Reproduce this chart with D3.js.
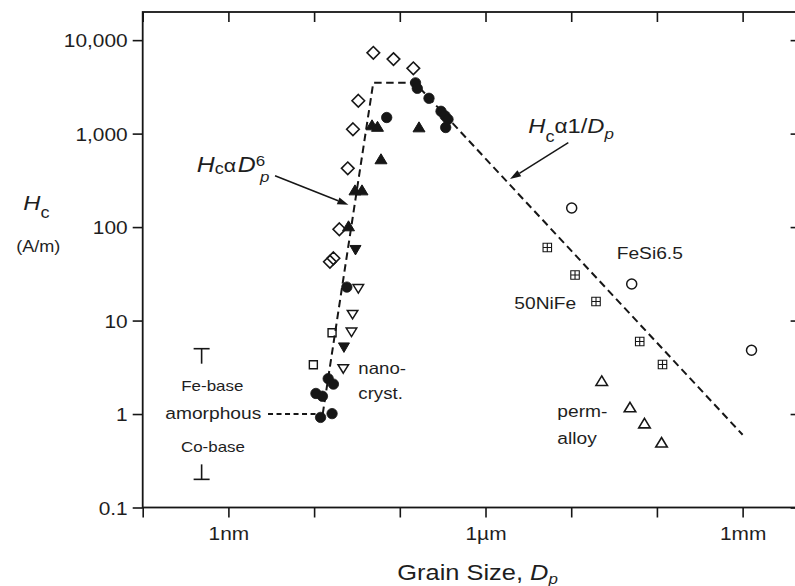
<!DOCTYPE html>
<html>
<head>
<meta charset="utf-8">
<script src="https://cdn.jsdelivr.net/npm/d3@7"></script>
<style>
  html, body { margin: 0; padding: 0; background: #fff; }
  svg { display: block; }
  text { font-family: "Liberation Sans", Arial, Helvetica, sans-serif; fill: #1e1e1e; }
</style>
</head>
<body>
<svg id="chart" width="795" height="586"></svg>
<script>
// Coercivity Hc (A/m) versus grain size D (nm) for soft magnetic alloys.
// Each series is a list of [D in nm, Hc in A/m].
const feBaseNanoDiamonds = [[49.1, 7310], [84.4, 6265], [143.8, 4990], [32.8, 2244], [28.4, 1112],
                            [24.7, 425], [19.7, 94.7], [15.3, 42.6], [16.8, 46.4]];
const filledCircles = [[152.5, 3493], [160, 3050], [219, 2387], [302.5, 1733], [337, 1550],
                       [365, 1422], [343, 1162], [70.3, 1487], [24.1, 22.8], [14.6, 2.39],
                       [16.8, 2.09], [10.5, 1.66], [12.5, 1.55], [11.9, 0.92], [16.2, 1.01]];
const filledUpTriangles = [[47.4, 1212], [54.9, 1168], [167.5, 1153], [60.3, 525],
                           [30.0, 244], [36.2, 244], [25.2, 100.7]];
const filledDownTriangles = [[30.4, 57.9], [22.3, 5.25]];
const openDownTriangles = [[32.8, 22.3], [28.1, 11.8], [27.3, 7.65], [21.9, 3.10]];
const openSquares = [[9.8, 3.37], [16.2, 7.4]];
const feSi65Circles = [[10130, 160], [50800, 24.6], [1270000, 4.81]];
const niFe50Squares = [[5260, 60.5], [11080, 30.7], [19470, 16.0], [63000, 5.98], [116200, 3.39]];
const permalloyTriangles = [[22700, 2.22], [48500, 1.16], [71600, 0.78], [113200, 0.487]];

// Amorphous alloys: range from Co-base (low) to Fe-base (high)
const amorphousRange = { D: 0.487, low: 0.2, high: 5 };

// Guide lines: Hc = const (amorphous), Hc ~ D^6, plateau, Hc ~ 1/D
const amorphousLevel = [[2.9, 1], [12.6, 1]];
const trendLine = [[12.6, 1], [49, 3500], [150, 3500], [1e6, 0.6]];

// Axis ticks
const xDecades = [0.1, 1, 10, 100, 1e3, 1e4, 1e5, 1e6];
const xLabelValues = [1, 1e3, 1e6];
const xLabelTexts = ["1nm", "1µm", "1mm"];
const yDecades = [0.1, 1, 10, 100, 1000, 10000];
const yLabelTexts = ["0.1", "1", "10", "100", "1,000", "10,000"];

const SX = 1.13;          // horizontal text stretch of the typeface
const INK = "#161616";

const svg = d3.select("#chart");
const x = d3.scaleLog().domain([0.1, 4.5e6]).range([142.7, 798.6]);
const y = d3.scaleLog().domain([0.1, 2e4]).range([507.5, 12]);

const [x0, x1] = x.range();
const [yB, yT] = y.range();

// ---- Axes -------------------------------------------------------------
const labelFor = d => {
  const i = xLabelValues.findIndex(v => Math.abs(Math.log10(v) - Math.log10(d)) < 1e-9);
  return i >= 0 ? xLabelTexts[i] : "";
};

const gBottom = svg.append("g").attr("transform", `translate(0,${yB})`)
  .call(d3.axisBottom(x).tickValues(xDecades).tickFormat(labelFor).tickSize(10).tickSizeOuter(0));
const gTop = svg.append("g").attr("transform", `translate(0,${yT})`)
  .call(d3.axisBottom(x).tickValues(xDecades).tickFormat("").tickSize(10).tickSizeOuter(0));
const gLeft = svg.append("g").attr("transform", `translate(${x0},0)`)
  .call(d3.axisLeft(y).tickValues(yDecades).tickFormat((d, i) => yLabelTexts[i]).tickSize(10).tickSizeOuter(0));
const gRight = svg.append("g").attr("transform", `translate(${x1},0)`)
  .call(d3.axisRight(y).tickValues(yDecades).tickFormat("").tickSize(-8).tickSizeOuter(0));

[gBottom, gTop, gLeft, gRight].forEach(g => {
  g.select(".domain").remove();
  g.selectAll(".tick line").attr("stroke", INK).attr("stroke-width", 1.6);
  g.selectAll(".tick text").attr("font-family", null).attr("fill", INK);
});
gTop.selectAll(".tick text").remove();
gRight.selectAll(".tick text").remove();

gBottom.selectAll(".tick text")
  .attr("font-size", 18.5).attr("y", 32.5).attr("dy", 0)
  .attr("transform", `scale(${SX},1)`);
gLeft.selectAll(".tick text")
  .attr("font-size", 18.5).attr("x", -15 / SX).attr("dy", "0.36em")
  .attr("transform", `scale(${SX},1)`);

// Frame
svg.append("rect")
  .attr("x", x0).attr("y", yT).attr("width", x1 - x0).attr("height", yB - yT)
  .attr("fill", "none").attr("stroke", INK).attr("stroke-width", 1.8);

// ---- Axis titles ------------------------------------------------------
function stretched(px, py, anchor) {
  return svg.append("text")
    .attr("transform", `translate(${px},${py}) scale(${SX},1)`)
    .attr("text-anchor", anchor || "start");
}

const hcTitle = stretched(23.3, 210);
hcTitle.append("tspan").attr("font-size", 21).attr("font-style", "italic").text("H");
hcTitle.append("tspan").attr("font-size", 16).attr("dy", 8).text("c");
stretched(38.3, 252, "middle").attr("font-size", 16).text("(A/m)");

const xTitle = stretched(397.3, 580);
xTitle.append("tspan").attr("font-size", 22.5).text("Grain Size, ");
xTitle.append("tspan").attr("font-size", 22.5).attr("font-style", "italic").text("D");
xTitle.append("tspan").attr("font-size", 15).attr("font-style", "italic").attr("dy", 4).text("p");

// ---- Guide lines ------------------------------------------------------
const line = d3.line().x(d => x(d[0])).y(d => y(d[1]));
svg.append("path").attr("d", line(amorphousLevel))
  .attr("fill", "none").attr("stroke", INK).attr("stroke-width", 2).attr("stroke-dasharray", "5,3.5");
svg.append("path").attr("d", line(trendLine))
  .attr("fill", "none").attr("stroke", INK).attr("stroke-width", 2).attr("stroke-dasharray", "7.5,4.5");

// ---- Amorphous range bar ends ----------------------------------------
const ax = x(amorphousRange.D);
const capHalf = 8, stem = 15;
const gBar = svg.append("g").attr("stroke", INK).attr("stroke-width", 1.6);
gBar.append("line").attr("x1", ax - capHalf).attr("x2", ax + capHalf)
  .attr("y1", y(amorphousRange.high)).attr("y2", y(amorphousRange.high));
gBar.append("line").attr("x1", ax).attr("x2", ax)
  .attr("y1", y(amorphousRange.high)).attr("y2", y(amorphousRange.high) + stem);
gBar.append("line").attr("x1", ax - capHalf).attr("x2", ax + capHalf)
  .attr("y1", y(amorphousRange.low)).attr("y2", y(amorphousRange.low));
gBar.append("line").attr("x1", ax).attr("x2", ax)
  .attr("y1", y(amorphousRange.low) - stem).attr("y2", y(amorphousRange.low));

// ---- Markers ----------------------------------------------------------
const shapes = {
  diamond: () => "M0,-6.3L6.3,0L0,6.3L-6.3,0Z",
  circle: r => `M${r},0A${r},${r} 0 1,1 ${-r},0A${r},${r} 0 1,1 ${r},0Z`,
  triUp: (w, h) => `M0,${-h * 0.6}L${w / 2},${h * 0.4}L${-w / 2},${h * 0.4}Z`,
  triDown: (w, h) => `M0,${h * 0.6}L${w / 2},${-h * 0.4}L${-w / 2},${-h * 0.4}Z`,
  square: s => `M${-s / 2},${-s / 2}H${s / 2}V${s / 2}H${-s / 2}Z`,
  gridSquare: s => `M${-s / 2},${-s / 2}H${s / 2}V${s / 2}H${-s / 2}ZM0,${-s / 2}V${s / 2}M${-s / 2},0H${s / 2}`
};

const seriesList = [
  { data: feBaseNanoDiamonds, d: shapes.diamond(), filled: false, sw: 1.6 },
  { data: openSquares, d: shapes.square(8), filled: false, sw: 1.4 },
  { data: openDownTriangles, d: shapes.triDown(10.5, 8.5), filled: false, sw: 1.5 },
  { data: filledDownTriangles, d: shapes.triDown(11, 9.5), filled: true, sw: 1 },
  { data: filledUpTriangles, d: shapes.triUp(12, 10), filled: true, sw: 1 },
  { data: filledCircles, d: shapes.circle(5.2), filled: true, sw: 0.8 },
  { data: feSi65Circles, d: shapes.circle(5), filled: false, sw: 1.5 },
  { data: niFe50Squares, d: shapes.gridSquare(8.5), filled: false, sw: 1.1 },
  { data: permalloyTriangles, d: shapes.triUp(11.5, 9.5), filled: false, sw: 1.6 }
];

seriesList.forEach(s => {
  svg.append("g").selectAll("path").data(s.data).join("path")
    .attr("transform", d => `translate(${x(d[0])},${y(d[1])})`)
    .attr("d", s.d)
    .attr("fill", s.filled ? INK : "none")
    .attr("stroke", INK)
    .attr("stroke-width", s.sw)
    .attr("stroke-linejoin", "miter");
});

// ---- Text labels (anchored in data units: [D, Hc] at baseline) -------
const plainLabels = [
  { text: "Fe-base", at: [0.649, 1.775], size: 15, anchor: "middle" },
  { text: "amorphous", at: [0.666, 0.891], size: 17, anchor: "middle" },
  { text: "Co-base", at: [0.66, 0.39], size: 15, anchor: "middle" },
  { text: "nano-", at: [32.8, 2.70], size: 16.5, anchor: "start" },
  { text: "cryst.", at: [32.8, 1.458], size: 16.5, anchor: "start" },
  { text: "FeSi6.5", at: [33960, 45.8], size: 17, anchor: "start" },
  { text: "50NiFe", at: [2168, 13.4], size: 17, anchor: "start" },
  { text: "perm-", at: [6887, 0.936], size: 17, anchor: "start" },
  { text: "alloy", at: [6887, 0.481], size: 17, anchor: "start" }
];
plainLabels.forEach(l => {
  stretched(x(l.at[0]), y(l.at[1]), l.anchor).attr("font-size", l.size).text(l.text);
});

// Power-law annotations
const law6 = stretched(x(0.427), y(384));
law6.append("tspan").attr("font-size", 22).attr("font-style", "italic").text("H");
law6.append("tspan").attr("font-size", 16).attr("dy", 2).text("c");
law6.append("tspan").attr("font-size", 19).attr("dy", -2).text("α");
law6.append("tspan").attr("font-size", 22).attr("font-style", "italic").attr("dx", 1.5).text("D");
law6.append("tspan").attr("font-size", 15).attr("dy", -6).text("6");
law6.append("tspan").attr("font-size", 15).attr("font-style", "italic").attr("dx", -4.5).attr("dy", 16).text("p");

const law1 = stretched(x(3158), y(1027));
law1.append("tspan").attr("font-size", 21).attr("font-style", "italic").text("H");
law1.append("tspan").attr("font-size", 16).attr("dy", 9).text("c");
law1.append("tspan").attr("font-size", 20).attr("dy", -9).text("α");
law1.append("tspan").attr("font-size", 21).text("1/");
law1.append("tspan").attr("font-size", 21).attr("font-style", "italic").text("D");
law1.append("tspan").attr("font-size", 15).attr("font-style", "italic").attr("dy", 6).text("p");

// Arrows from the annotations to the guide line
const arrows = [
  { from: [3.5, 354], to: [25.1, 173] },
  { from: [9250, 803], to: [1932, 326] }
];
arrows.forEach(a => {
  const fx = x(a.from[0]), fy = y(a.from[1]);
  const tx = x(a.to[0]), ty = y(a.to[1]);
  const ang = Math.atan2(ty - fy, tx - fx);
  const len = 11, half = 3.6;
  const bx = tx - len * Math.cos(ang), by = ty - len * Math.sin(ang);
  svg.append("line").attr("x1", fx).attr("y1", fy).attr("x2", bx).attr("y2", by)
    .attr("stroke", INK).attr("stroke-width", 1.5);
  const px = -Math.sin(ang) * half, py = Math.cos(ang) * half;
  svg.append("path")
    .attr("d", `M${tx},${ty}L${bx + px},${by + py}L${bx - px},${by - py}Z`)
    .attr("fill", INK);
});
</script>
</body>
</html>
